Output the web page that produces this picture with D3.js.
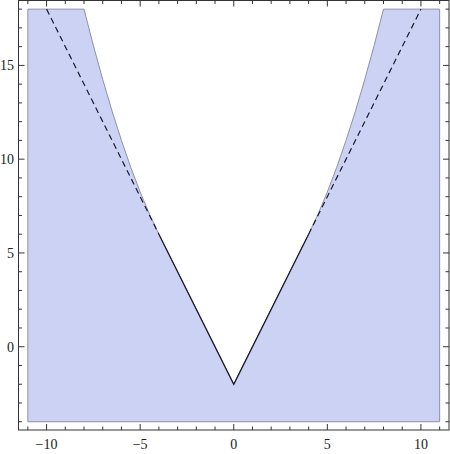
<!DOCTYPE html>
<html lang="en">
<head>
    <meta charset="UTF-8">
    <title>Region plot</title>
    <script src="https://d3js.org/d3.v7.min.js"></script>
    <style>
        body { margin: 0; background: #fff; }
        text { font-family: "Liberation Serif", "DejaVu Serif", serif; font-size: 14px; fill: #222; }
    </style>
</head>
<body>
    <svg width="450" height="454"></svg>

    <script>
        // boundary of the white area
        const boundaryX = [-8, -7.5, -7, -6.5, -6, -5.5, -5, -4.5, -4, 0, 4, 4.5, 5, 5.5, 6, 6.5, 7, 7.5, 8];
        const boundaryY = [18, 16.06, 14.25, 12.56, 11, 9.56, 8.25, 7.06, 6, -2, 6, 7.06, 8.25, 9.56, 11, 12.56, 14.25, 16.06, 18];

        // shaded box limits
        const boxX = [-11, 11];
        const boxY = [-4, 18];

        // solid V and dashed continuation
        const solidX = [-4, 0, 4];
        const solidY = [6, -2, 6];
        const dashLeftX = [-10, -4];
        const dashLeftY = [18, 6];
        const dashRightX = [4, 10];
        const dashRightY = [6, 18];

        const xTicks = [-10, -5, 0, 5, 10];
        const yTicks = [0, 5, 10, 15];

        const width = 450;
        const height = 454;

        const svg = d3.select("svg");

        const x = d3.scaleLinear().domain([-11.5, 11.5]).range([18.5, 449]);
        const y = d3.scaleLinear().domain([-4.44, 18.46]).range([430, 0.5]);

        const line = d3.line().x(d => x(d[0])).y(d => y(d[1]));

        // shaded region: box minus the area above the boundary
        const region = [[boxX[0], boxY[0]], [boxX[1], boxY[0]], [boxX[1], boxY[1]]];
        for (let i = boundaryX.length - 1; i >= 0; i--) region.push([boundaryX[i], boundaryY[i]]);
        region.push([boxX[0], boxY[1]]);

        svg.append("path")
            .attr("d", line(region) + "Z")
            .attr("fill", "#cbd2f3")
            .attr("stroke", "#8e90a8")
            .attr("stroke-width", 1);

        svg.append("path")
            .attr("d", line(solidX.map((v, i) => [v, solidY[i]])))
            .attr("fill", "none")
            .attr("stroke", "#1a1a2a")
            .attr("stroke-width", 1.3);

        [[dashLeftX, dashLeftY], [dashRightX, dashRightY]].forEach(([xs, ys]) => {
            svg.append("path")
                .attr("d", line(xs.map((v, i) => [v, ys[i]])))
                .attr("fill", "none")
                .attr("stroke", "#1a1a2a")
                .attr("stroke-width", 1.2)
                .attr("stroke-dasharray", "6,4");
        });

        // frame
        const [x0, x1] = x.range();
        const [y0, y1] = y.range();
        svg.append("rect")
            .attr("x", x0).attr("y", y1)
            .attr("width", x1 - x0).attr("height", y0 - y1)
            .attr("fill", "none")
            .attr("stroke", "#333")
            .attr("stroke-width", 1);

        // ticks on all four sides, pointing inward
        const minorX = d3.range(-11, 12);
        const minorY = d3.range(-4, 19);
        const g = svg.append("g").attr("stroke", "#333").attr("stroke-width", 1);

        minorX.forEach(v => {
            const len = v % 5 === 0 ? 6 : 3.5;
            g.append("line").attr("x1", x(v)).attr("x2", x(v)).attr("y1", y0).attr("y2", y0 - len);
            g.append("line").attr("x1", x(v)).attr("x2", x(v)).attr("y1", y1).attr("y2", y1 + len);
        });
        minorY.forEach(v => {
            const len = v % 5 === 0 ? 6 : 3.5;
            g.append("line").attr("y1", y(v)).attr("y2", y(v)).attr("x1", x0).attr("x2", x0 + len);
            g.append("line").attr("y1", y(v)).attr("y2", y(v)).attr("x1", x1).attr("x2", x1 - len);
        });

        svg.selectAll("text.xt")
            .data(xTicks)
            .enter().append("text")
            .attr("class", "xt")
            .attr("x", d => x(d))
            .attr("y", 449)
            .attr("text-anchor", "middle")
            .text(d => d < 0 ? "\u2212" + Math.abs(d) : d);

        svg.selectAll("text.yt")
            .data(yTicks)
            .enter().append("text")
            .attr("class", "yt")
            .attr("x", 14)
            .attr("y", d => y(d) + 5)
            .attr("text-anchor", "end")
            .text(d => d);
    </script>
</body>
</html>
